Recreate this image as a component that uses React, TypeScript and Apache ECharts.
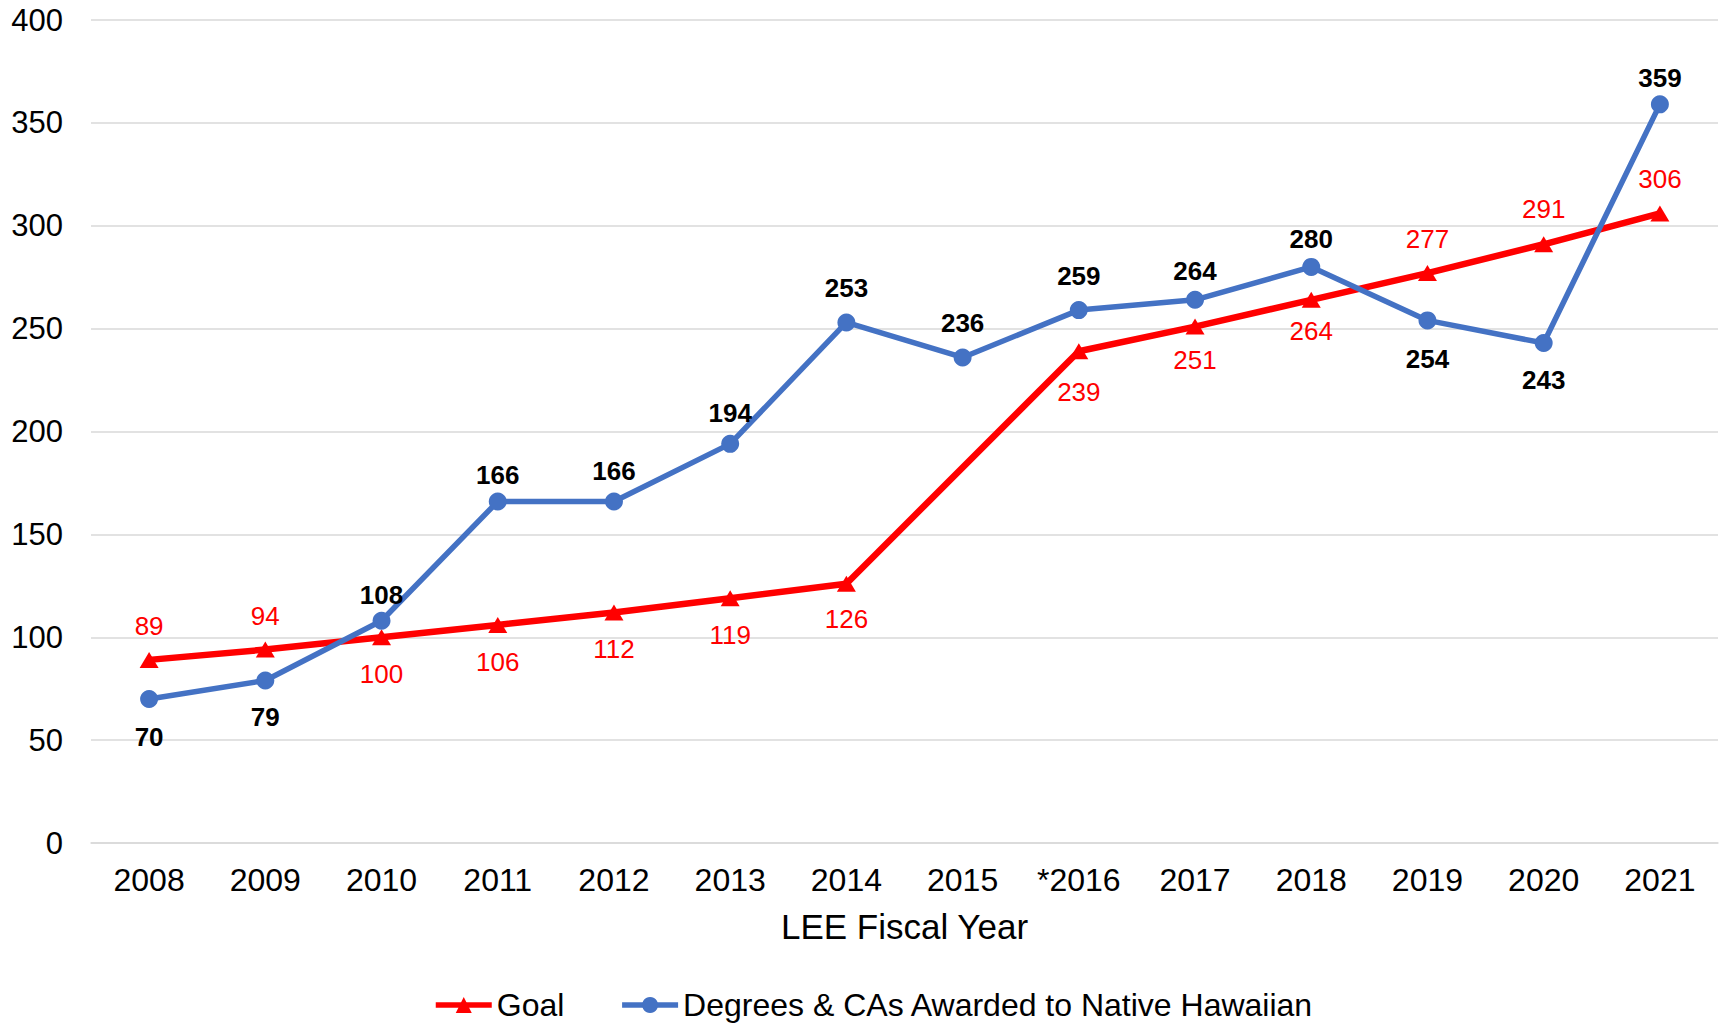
import React, { useEffect, useRef } from "react";
import * as echarts from "echarts";

const categories = ["2008", "2009", "2010", "2011", "2012", "2013", "2014", "2015", "*2016", "2017", "2018", "2019", "2020", "2021"];
const goalValues: (number | null)[] = [89, 94, 100, 106, 112, 119, 126, null, 239, 251, 264, 277, 291, 306];
const degreeValues = [70, 79, 108, 166, 166, 194, 253, 236, 259, 264, 280, 254, 243, 359];
// label placement (style only)
const goalLabelPos = ["top", "top", "bottom", "bottom", "bottom", "bottom", "bottom", "bottom", "bottom", "bottom", "bottom", "top", "top", "top"];
const goalLabelGap = [13, 12.5, 16, 16, 15.4, 15.6, 14.6, 15, 20, 12, 10, 13, 14, 13.7];
const degreeLabelPos = ["bottom", "bottom", "top", "top", "top", "top", "top", "top", "top", "top", "top", "bottom", "bottom", "top"];
const degreeLabelGap = [16, 15, 4, 4, 8.6, 9, 12.7, 12.5, 12.3, 6.4, 6.4, 16.6, 14.8, 4];
const yTicks = { min: 0, max: 400, interval: 50 };

const FONT = "'Liberation Sans', Arial, sans-serif";

export default function App() {
  const ref = useRef<HTMLDivElement>(null);
  useEffect(() => {
    if (!ref.current) return;
    const chart = echarts.init(ref.current, null, { renderer: "svg" });
    const goalData = goalValues.map((v, i) => ({
      value: v,
      label: { position: goalLabelPos[i], distance: goalLabelGap[i] },
    }));
    const degreeData = degreeValues.map((v, i) => ({
      value: v,
      label: { position: degreeLabelPos[i], distance: degreeLabelGap[i] },
    }));
    chart.setOption({
      animation: false,
      textStyle: { fontFamily: FONT },
      grid: { left: 91, right: 1, top: 20, bottom: 180, containLabel: false },
      legend: {
        left: 428,
        top: 984,
        itemWidth: 56,
        itemHeight: 20,
        itemGap: 55,
        itemTextGap: 6,
        lineStyle: { width: 5.5 },
        textStyle: { fontSize: 32, color: "#000", fontFamily: FONT },
        data: ["Goal", "Degrees & CAs Awarded to Native Hawaiian"],
      },
      xAxis: {
        type: "category",
        data: categories,
        boundaryGap: true,
        axisLine: { show: true, lineStyle: { color: "#D9D9D9", width: 1.5 } },
        axisTick: { show: false },
        axisLabel: { fontSize: 32, color: "#000", margin: 21, fontFamily: FONT, interval: 0 },
        name: "LEE Fiscal Year",
        nameLocation: "middle",
        nameGap: 66,
        nameTextStyle: { fontSize: 35, color: "#000", fontFamily: FONT },
      },
      yAxis: {
        type: "value",
        min: yTicks.min,
        max: yTicks.max,
        interval: yTicks.interval,
        axisLine: { show: false },
        axisTick: { show: false },
        axisLabel: { fontSize: 31, color: "#000", margin: 28, fontFamily: FONT },
        splitLine: { lineStyle: { color: "#D9D9D9", width: 1.5 } },
      },
      series: [
        {
          name: "Goal",
          type: "line",
          data: goalData,
          connectNulls: true,
          symbol: "triangle",
          symbolSize: [19, 16],
          itemStyle: { color: "#FF0000" },
          lineStyle: { color: "#FF0000", width: 6.5 },
          label: { show: true, color: "#FF0000", fontSize: 26, fontFamily: FONT },
        },
        {
          name: "Degrees & CAs Awarded to Native Hawaiian",
          type: "line",
          data: degreeData,
          symbol: "circle",
          symbolSize: 18,
          itemStyle: { color: "#4472C4" },
          lineStyle: { color: "#4472C4", width: 5.5 },
          label: { show: true, color: "#000", fontWeight: "bold", fontSize: 26, fontFamily: FONT },
        },
      ],
    });
    return () => chart.dispose();
  }, []);
  return (
    <div
      ref={ref}
      style={{ position: "fixed", left: 0, top: 0, width: 1719, height: 1023, background: "#fff" }}
    />
  );
}
